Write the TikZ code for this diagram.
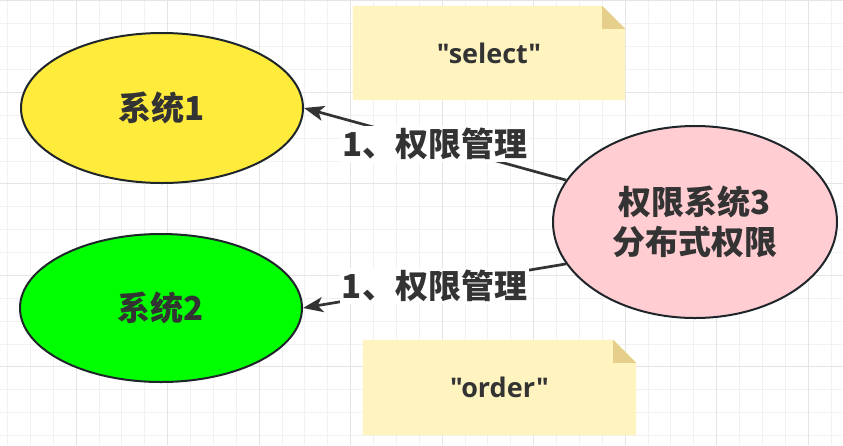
\documentclass[tikz,border=0pt]{standalone}
\usepackage{fontspec}
\setmainfont{Noto Sans CJK SC}
\newfontfamily\latinb{Open Sans}
\usetikzlibrary{shapes.geometric,arrows.meta}
\definecolor{txt}{HTML}{333333}
\definecolor{edge}{HTML}{1F262B}
\definecolor{sysyellow}{HTML}{FFEB3B}
\definecolor{sysgreen}{HTML}{00FF00}
\definecolor{syspink}{HTML}{FFCDD2}
\definecolor{notefill}{HTML}{FFF3BF}
\definecolor{notefold}{HTML}{E6CF8A}
\definecolor{gridfine}{HTML}{F1F1F1}
\definecolor{gridmajor}{HTML}{E4E4E4}
\tikzset{
  finegrid/.style={draw=gridfine, line width=1pt},
  majorgrid/.style={draw=gridmajor, line width=1pt},
  sysell/.style={ellipse, draw=edge, line width=2pt, inner sep=0pt,
    text=txt, font=\fontsize{33}{40}\selectfont\bfseries, align=center},
  conn/.style={draw=txt, line width=2.7pt,
    -{Stealth[length=20pt, width=15pt, inset=5pt]}},
  lbl/.style={fill=white, inner sep=2pt, text=txt,
    font=\fontsize{33}{40}\selectfont\bfseries},
  notebox/.style={rectangle, inner sep=0pt, text=txt,
    font=\latinb\fontsize{27}{32}\selectfont\bfseries}
}
\begin{document}
\begin{tikzpicture}[x=1pt,y=-1pt]
\useasboundingbox (0,0) rectangle (843,445);
\fill[white] (0,0) rectangle (843,445);
% grid
\foreach \i in {0,...,36} \draw[finegrid] ({7.6+22.875*\i},0) -- ++(0,445);
\foreach \j in {0,...,19} \draw[finegrid] (0,{0.9+22.875*\j}) -- ++(843,0);
\foreach \i in {0,...,8} \draw[majorgrid] ({76+91.5*\i},0) -- ++(0,445);
\foreach \j in {0,...,4} \draw[majorgrid] (0,{0.9+91.5*\j}) -- ++(843,0);
% notes
\node[notebox, minimum width=272pt, minimum height=94pt] (n1) at (489,53) {};
\fill[notefill] (n1.north west) -- ([xshift=-23pt]n1.north east) -- ([yshift=-23pt]n1.north east) -- (n1.south east) -- (n1.south west) -- cycle;
\fill[notefold] ([xshift=-23pt]n1.north east) -- ([xshift=-23pt,yshift=-23pt]n1.north east) -- ([yshift=-23pt]n1.north east) -- cycle;
\node[notebox] (t1) at (n1.center) {"select"};
\node[notebox, minimum width=273pt, minimum height=95pt] (n2) at (499.5,387.5) {};
\fill[notefill] (n2.north west) -- ([xshift=-23pt]n2.north east) -- ([yshift=-23pt]n2.north east) -- (n2.south east) -- (n2.south west) -- cycle;
\fill[notefold] ([xshift=-23pt]n2.north east) -- ([xshift=-23pt,yshift=-23pt]n2.north east) -- ([yshift=-23pt]n2.north east) -- cycle;
\node[notebox] (t2) at (n2.center) {"order"};
% systems
\node[sysell, fill=sysyellow, minimum width=282pt, minimum height=150pt] (s1) at (162,108) {系统1};
\node[sysell, fill=sysgreen, minimum width=282pt, minimum height=148pt] (s2) at (161,308) {系统2};
\node[sysell, fill=syspink, minimum width=284pt, minimum height=192pt] (p) at (695,222) {权限系统3\\分布式权限};
% connectors
\draw[conn] (p.162) -- node[lbl] {1、权限管理} (s1.east);
\draw[conn] (p.198) -- node[lbl] {1、权限管理} (s2.east);
\end{tikzpicture}
\end{document}
